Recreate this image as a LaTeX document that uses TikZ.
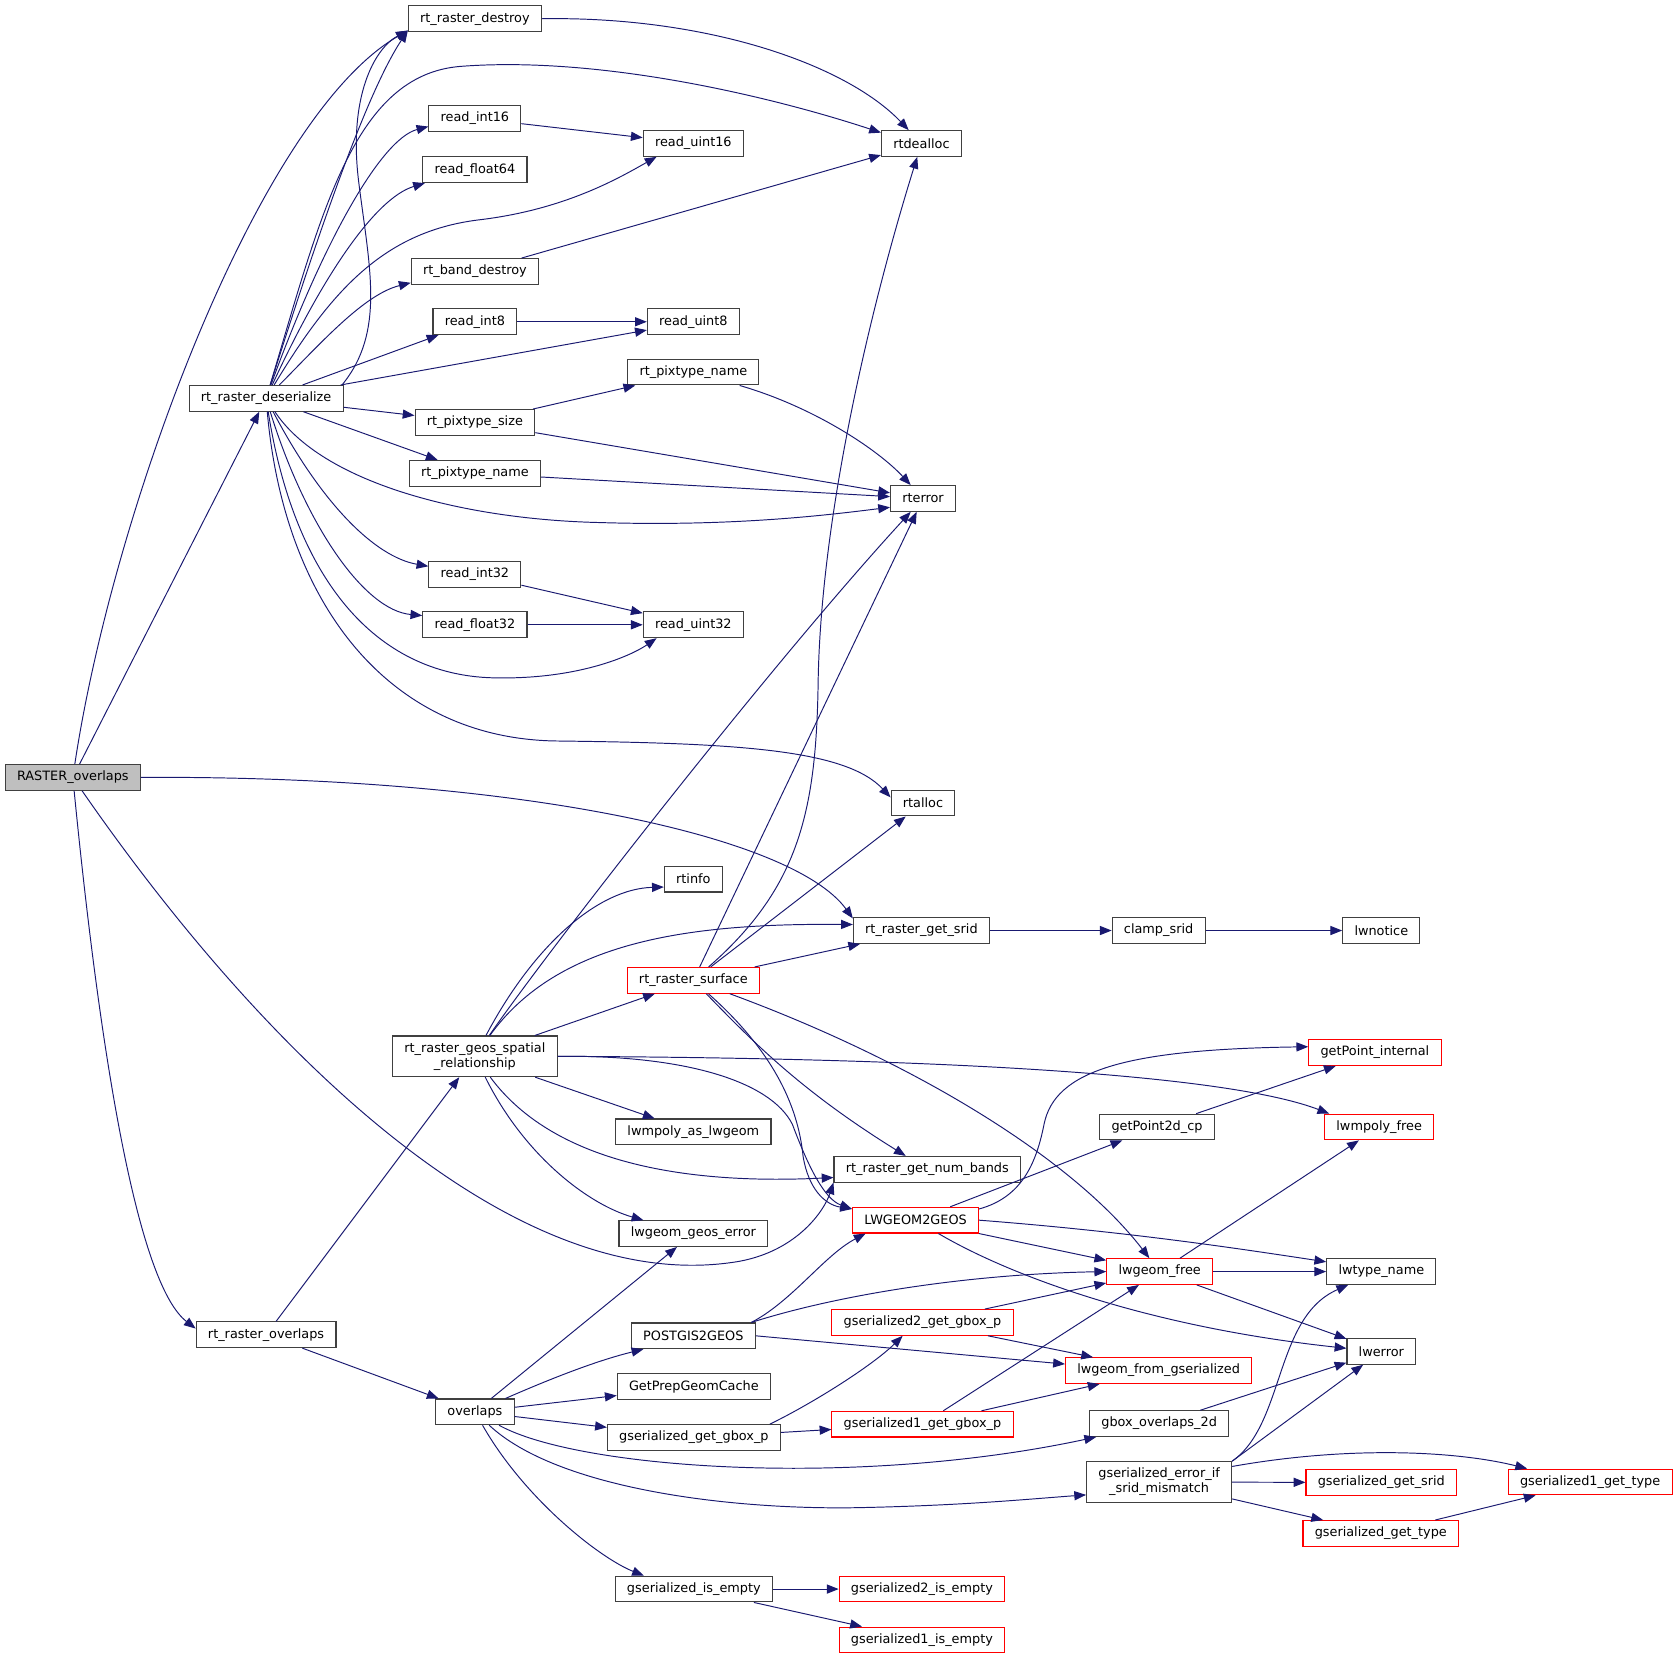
\documentclass[tikz,border=0pt]{standalone}
\usepackage{fontspec}
\setmainfont{DejaVu Sans}
\usetikzlibrary{arrows.meta}
\definecolor{callblue}{HTML}{191970}
\definecolor{rootgray}{HTML}{BFBFBF}

\begin{document}
\begin{tikzpicture}[x=1pt, y=-1pt,
  fn/.style={draw=black!75, fill=white, line width=1pt, inner xsep=11pt, inner ysep=6pt,
    minimum height=24pt, align=center, font=\fontsize{12pt}{14pt}\selectfont},
  fnred/.style={fn, draw=red},
  fnroot/.style={fn, fill=rootgray},
  callarrow/.style={draw=callblue, line width=0.9pt, -{Triangle[length=11pt,width=8.5pt]}}]
  \useasboundingbox (0,0) rectangle (1568,1549);

  \node [fnroot] at (68,726) (ro) {RASTER\_overlaps};
  \node [fn] at (443.5,17.5) (rrdestroy) {rt\_raster\_destroy};
  \node [fn] at (860.5,134) (rtdealloc) {rtdealloc};
  \node [fn] at (443.5,110.5) (ri16) {read\_int16};
  \node [fn] at (647.5,134) (ru16) {read\_uint16};
  \node [fn] at (443.5,158.5) (rf64) {read\_float64};
  \node [fn] at (443.5,253.5) (rbdestroy) {rt\_band\_destroy};
  \node [fn] at (443.5,300.5) (ri8) {read\_int8};
  \node [fn] at (647.5,300.5) (ru8) {read\_uint8};
  \node [fn] at (647.5,347.5) (rpnameA) {rt\_pixtype\_name};
  \node [fn] at (248.5,372) (rrdeser) {rt\_raster\_deserialize};
  \node [fn] at (443.5,394.5) (rpsize) {rt\_pixtype\_size};
  \node [fn] at (443.5,442) (rpnameB) {rt\_pixtype\_name};
  \node [fn] at (862,465.5) (rterror) {rterror};
  \node [fn] at (443.5,536.5) (ri32) {read\_int32};
  \node [fn] at (443.5,583.5) (rf32) {read\_float32};
  \node [fn] at (647.5,583.5) (ru32) {read\_uint32};
  \node [fn] at (862,750) (rtalloc) {rtalloc};
  \node [fn] at (647.5,821) (rtinfo) {rtinfo};
  \node [fn] at (860.5,869) (rrsrid) {rt\_raster\_get\_srid};
  \node [fn] at (1082,869) (clamp) {clamp\_srid};
  \node [fn] at (1290,869) (lwnotice) {lwnotice};
  \node [fnred] at (647.5,915.5) (rrsurface) {rt\_raster\_surface};
  \node [fn] at (443.5,986.5) (rrgeos) {rt\_raster\_geos\_spatial\\\_relationship};
  \node [fnred] at (1284,983) (getpint) {getPoint\_internal};
  \node [fn] at (1080.5,1052.5) (getp2d) {getPoint2d\_cp};
  \node [fnred] at (1288,1052.5) (lwmpfree) {lwmpoly\_free};
  \node [fn] at (647.5,1057) (lwmpas) {lwmpoly\_as\_lwgeom};
  \node [fn] at (866,1092) (rrnb) {rt\_raster\_get\_num\_bands};
  \node [fnred] at (855,1139.5) (lw2geos) {LWGEOM2GEOS};
  \node [fn] at (647.5,1152) (lwgerr) {lwgeom\_geos\_error};
  \node [fnred] at (1083,1187.5) (lwfree) {lwgeom\_free};
  \node [fn] at (1290,1187.5) (lwtype) {lwtype\_name};
  \node [fn] at (248.5,1246.5) (rrover) {rt\_raster\_overlaps};
  \node [fn] at (647.5,1247.5) (pg2geos) {POSTGIS2GEOS};
  \node [fnred] at (861.5,1235) (gs2box) {gserialized2\_get\_gbox\_p};
  \node [fnred] at (1082,1280) (lwfromgs) {lwgeom\_from\_gserialized};
  \node [fn] at (1290,1262) (lwerror) {lwerror};
  \node [fn] at (648,1295) (gpgc) {GetPrepGeomCache};
  \node [fn] at (443.5,1318.5) (ovl) {overlaps};
  \node [fn] at (648,1342.5) (gsbox) {gserialized\_get\_gbox\_p};
  \node [fnred] at (861.5,1330) (gs1box) {gserialized1\_get\_gbox\_p};
  \node [fn] at (1082.5,1329.5) (gbox2d) {gbox\_overlaps\_2d};
  \node [fn] at (1082.5,1384) (gserr) {gserialized\_error\_if\\\_srid\_mismatch};
  \node [fnred] at (1290,1384.5) (gssrid) {gserialized\_get\_srid};
  \node [fnred] at (1485,1384) (gs1type) {gserialized1\_get\_type};
  \node [fnred] at (1289.5,1432) (gstype) {gserialized\_get\_type};
  \node [fn] at (648,1484) (gsempty) {gserialized\_is\_empty};
  \node [fnred] at (861,1484) (gs2empty) {gserialized2\_is\_empty};
  \node [fnred] at (861,1531.5) (gs1empty) {gserialized1\_is\_empty};

  \draw [callarrow] (ro) .. controls (105,480) and (240,110) .. (rrdestroy.190);
  \draw [callarrow] (ro) -- (rrdeser);
  \draw [callarrow] (ro.east) .. controls (480,724) and (740,780) .. (rrsrid.170);
  \draw [callarrow] (ro) .. controls (230,960) and (470,1215) .. (690,1178) .. controls (745,1168) and (770,1130) .. (rrnb.188);
  \draw [callarrow] (ro) .. controls (95,1000) and (130,1200) .. (rrover.175);

  \draw [callarrow] (rrdeser) .. controls (290,240) and (340,90) .. (rrdestroy.190);
  \draw [callarrow] (rrdeser.10) .. controls (360,310) and (345,250) .. (335,170) .. controls (325,90) and (350,45) .. (rrdestroy.190);
  \draw [callarrow] (rrdeser) .. controls (300,200) and (330,70) .. (430,62) .. controls (560,52) and (720,90) .. (rtdealloc.165);
  \draw [callarrow] (rrdeser) .. controls (300,230) and (355,130) .. (ri16.190);
  \draw [callarrow] (rrdeser) .. controls (300,260) and (350,185) .. (rf64.195);
  \draw [callarrow] (rrdeser) .. controls (310,270) and (360,215) .. (450,205) .. controls (530,195) and (580,165) .. (ru16.200);
  \draw [callarrow] (rrdeser) .. controls (300,320) and (340,275) .. (rbdestroy.190);
  \draw [callarrow] (rrdeser) -- (ri8);
  \draw [callarrow] (rrdeser) -- (ru8);
  \draw [callarrow] (rrdeser) -- (rpsize);
  \draw [callarrow] (rrdeser) -- (rpnameB);
  \draw [callarrow] (rrdeser) .. controls (300,450) and (430,485) .. (560,488) .. controls (690,492) and (780,480) .. (rterror.195);
  \draw [callarrow] (rrdeser) .. controls (300,470) and (350,520) .. (ri32.170);
  \draw [callarrow] (rrdeser) .. controls (285,490) and (340,570) .. (rf32.170);
  \draw [callarrow] (rrdeser) .. controls (275,540) and (350,630) .. (460,633) .. controls (540,635) and (590,612) .. (ru32.200);
  \draw [callarrow] (rrdeser) .. controls (265,560) and (360,690) .. (520,692) .. controls (690,694) and (790,700) .. (rtalloc.170);

  \draw [callarrow] (rrdestroy.east) .. controls (660,15) and (790,60) .. (rtdealloc);
  \draw [callarrow] (ri16) -- (ru16);
  \draw [callarrow] (rbdestroy) -- (rtdealloc);
  \draw [callarrow] (ri8) -- (ru8);
  \draw [callarrow] (rpsize) -- (rpnameA);
  \draw [callarrow] (rpsize) -- (rterror);
  \draw [callarrow] (rpnameA) .. controls (760,380) and (820,420) .. (rterror);
  \draw [callarrow] (rpnameB) -- (rterror);
  \draw [callarrow] (ri32) -- (ru32);
  \draw [callarrow] (rf32) -- (ru32);

  \draw [callarrow] (rrsrid) -- (clamp);
  \draw [callarrow] (clamp) -- (lwnotice);

  \draw [callarrow] (rrsurface) .. controls (745,830) and (762,760) .. (764,640) .. controls (766,480) and (815,280) .. (rtdealloc);
  \draw [callarrow] (rrsurface) -- (rterror);
  \draw [callarrow] (rrsurface) -- (rtalloc);
  \draw [callarrow] (rrsurface) -- (rrsrid);
  \draw [callarrow] (rrsurface) .. controls (705,975) and (750,1020) .. (rrnb);
  \draw [callarrow] (rrsurface) .. controls (720,980) and (745,1030) .. (750,1080) .. controls (755,1110) and (770,1125) .. (lw2geos.170);
  \draw [callarrow] (rrsurface) .. controls (850,990) and (1000,1080) .. (lwfree);

  \draw [callarrow] (rrgeos) .. controls (510,890) and (720,620) .. (rterror);
  \draw [callarrow] (rrgeos) .. controls (500,880) and (560,830) .. (rtinfo.195);
  \draw [callarrow] (rrgeos) .. controls (520,880) and (640,862) .. (rrsrid.175);
  \draw [callarrow] (rrgeos) -- (rrsurface);
  \draw [callarrow] (rrgeos.east) .. controls (900,988) and (1150,1005) .. (lwmpfree.165);
  \draw [callarrow] (rrgeos) -- (lwmpas);
  \draw [callarrow] (rrgeos) .. controls (520,1090) and (650,1106) .. (rrnb.185);
  \draw [callarrow] (rrgeos.east) .. controls (640,985) and (720,1010) .. (740,1050) .. controls (755,1090) and (770,1120) .. (lw2geos.170);
  \draw [callarrow] (rrgeos) .. controls (490,1080) and (550,1125) .. (lwgerr.165);

  \draw [callarrow] (lw2geos.10) .. controls (955,1118) and (968,1085) .. (975,1050) .. controls (985,1000) and (1050,980) .. (getpint.175);
  \draw [callarrow] (lw2geos) -- (getp2d);
  \draw [callarrow] (lw2geos) -- (lwfree);
  \draw [callarrow] (lw2geos.east) .. controls (1050,1150) and (1150,1165) .. (lwtype.170);
  \draw [callarrow] (lw2geos) .. controls (950,1195) and (1080,1240) .. (lwerror.175);
  \draw [callarrow] (getp2d) -- (getpint);
  \draw [callarrow] (lwfree) -- (lwmpfree);
  \draw [callarrow] (lwfree) -- (lwtype);
  \draw [callarrow] (lwfree) -- (lwerror);

  \draw [callarrow] (rrover) -- (rrgeos);
  \draw [callarrow] (rrover) -- (ovl);

  \draw [callarrow] (ovl) -- (lwgerr);
  \draw [callarrow] (ovl) .. controls (520,1285) and (560,1270) .. (pg2geos.195);
  \draw [callarrow] (ovl) -- (gpgc);
  \draw [callarrow] (ovl) -- (gsbox);
  \draw [callarrow] (ovl) .. controls (540,1372) and (800,1390) .. (gbox2d.192);
  \draw [callarrow] (ovl) .. controls (520,1390) and (680,1410) .. (800,1408) .. controls (900,1406) and (960,1400) .. (gserr.190);
  \draw [callarrow] (ovl) .. controls (490,1400) and (560,1455) .. (gsempty.165);

  \draw [callarrow] (pg2geos.13) .. controls (740,1215) and (770,1172) .. (lw2geos.195);
  \draw [callarrow] (pg2geos.13) .. controls (780,1210) and (900,1190) .. (lwfree.west);
  \draw [callarrow] (pg2geos.east) -- (lwfromgs.176);

  \draw [callarrow] (gsbox.10) .. controls (760,1310) and (815,1275) .. (gs2box.214);
  \draw [callarrow] (gsbox) -- (gs1box);
  \draw [callarrow] (gs2box) -- (lwfree);
  \draw [callarrow] (gs2box) -- (lwfromgs);
  \draw [callarrow] (gs1box) -- (lwfree);
  \draw [callarrow] (gs1box) -- (lwfromgs);
  \draw [callarrow] (gbox2d) -- (lwerror);

  \draw [callarrow] (gserr.north east) .. controls (1200,1330) and (1190,1230) .. (lwtype.202);
  \draw [callarrow] (gserr.north east) -- (lwerror);
  \draw [callarrow] (gserr.12) .. controls (1260,1350) and (1360,1355) .. (gs1type.168);
  \draw [callarrow] (gserr) -- (gssrid);
  \draw [callarrow] (gserr) -- (gstype);
  \draw [callarrow] (gstype) -- (gs1type);

  \draw [callarrow] (gsempty) -- (gs2empty);
  \draw [callarrow] (gsempty) -- (gs1empty);
\end{tikzpicture}
\end{document}
